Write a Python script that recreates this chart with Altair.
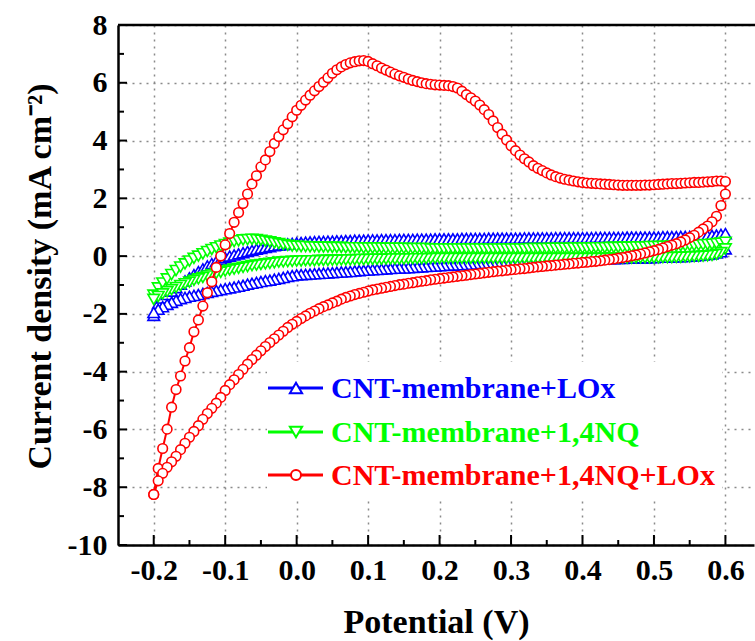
import altair as alt
import pandas as pd

# ---------------- data ----------------
N = 129  # potential sweep points per branch, -0.2 V ... 0.6 V
potential = [round(-0.2 + 0.00625 * k, 5) for k in range(N)]

names = ["CNT-membrane+LOx", "CNT-membrane+1,4NQ", "CNT-membrane+1,4NQ+LOx"]
colors = ["#0000FF", "#00FF00", "#FF0000"]
shapes = ["triangle-up", "triangle-down", "circle"]

# CNT-membrane+LOx (blue)
lox_anodic = [
    -2.05, -1.65, -1.45, -1.33, -1.21, -1.09, -0.97, -0.86, -0.75, -0.64,
    -0.54, -0.44, -0.34, -0.26, -0.18, -0.11, -0.05, 0.00, 0.04, 0.08,
    0.12, 0.16, 0.20, 0.24, 0.27, 0.30, 0.33, 0.36, 0.38, 0.40,
    0.42, 0.44, 0.46, 0.47, 0.48, 0.49, 0.50, 0.51, 0.51, 0.52,
    0.52, 0.53, 0.53, 0.54, 0.54, 0.55, 0.55, 0.55, 0.56, 0.56,
    0.56, 0.57, 0.57, 0.57, 0.57, 0.58, 0.58, 0.58, 0.58, 0.59,
    0.59, 0.59, 0.59, 0.60, 0.60, 0.60, 0.60, 0.60, 0.60, 0.61,
    0.61, 0.61, 0.61, 0.61, 0.61, 0.62, 0.62, 0.62, 0.62, 0.62,
    0.62, 0.62, 0.62, 0.63, 0.63, 0.63, 0.63, 0.63, 0.63, 0.63,
    0.64, 0.64, 0.64, 0.64, 0.64, 0.64, 0.64, 0.64, 0.64, 0.65,
    0.65, 0.65, 0.65, 0.65, 0.65, 0.65, 0.66, 0.66, 0.66, 0.66,
    0.66, 0.66, 0.66, 0.66, 0.67, 0.67, 0.67, 0.67, 0.68, 0.68,
    0.68, 0.69, 0.69, 0.70, 0.71, 0.72, 0.73, 0.75, 0.78,
]
lox_cathodic = [
    -1.95, -1.84, -1.75, -1.67, -1.60, -1.53, -1.47, -1.43, -1.39, -1.36,
    -1.33, -1.29, -1.26, -1.22, -1.19, -1.16, -1.13, -1.10, -1.07, -1.04,
    -1.01, -0.97, -0.94, -0.91, -0.88, -0.85, -0.83, -0.80, -0.77, -0.74,
    -0.70, -0.68, -0.65, -0.64, -0.63, -0.62, -0.61, -0.60, -0.59, -0.58,
    -0.57, -0.56, -0.55, -0.54, -0.53, -0.51, -0.50, -0.49, -0.48, -0.47,
    -0.46, -0.45, -0.44, -0.43, -0.42, -0.41, -0.41, -0.40, -0.39, -0.38,
    -0.37, -0.36, -0.35, -0.34, -0.33, -0.32, -0.31, -0.31, -0.30, -0.29,
    -0.28, -0.27, -0.26, -0.26, -0.25, -0.24, -0.24, -0.23, -0.22, -0.22,
    -0.21, -0.20, -0.20, -0.19, -0.19, -0.18, -0.17, -0.17, -0.16, -0.16,
    -0.15, -0.15, -0.14, -0.14, -0.13, -0.13, -0.12, -0.12, -0.11, -0.11,
    -0.10, -0.10, -0.09, -0.09, -0.08, -0.08, -0.07, -0.07, -0.06, -0.06,
    -0.06, -0.05, -0.05, -0.04, -0.04, -0.03, -0.03, -0.02, -0.02, -0.01,
    0.00, 0.01, 0.02, 0.04, 0.06, 0.08, 0.11, 0.15, 0.25,
]

# CNT-membrane+1,4NQ (green)
nq_anodic = [
    -1.35, -1.10, -0.93, -0.79, -0.64, -0.50, -0.38, -0.27, -0.17, -0.08,
    0.00, 0.08, 0.16, 0.23, 0.29, 0.35, 0.40, 0.45, 0.50, 0.53,
    0.56, 0.57, 0.58, 0.57, 0.55, 0.52, 0.49, 0.46, 0.43, 0.40,
    0.37, 0.35, 0.34, 0.33, 0.33, 0.32, 0.32, 0.31, 0.31, 0.31,
    0.30, 0.30, 0.30, 0.29, 0.29, 0.29, 0.29, 0.28, 0.28, 0.28,
    0.28, 0.28, 0.27, 0.27, 0.27, 0.27, 0.27, 0.26, 0.26, 0.26,
    0.26, 0.26, 0.25, 0.25, 0.25, 0.25, 0.25, 0.25, 0.25, 0.25,
    0.25, 0.25, 0.25, 0.25, 0.25, 0.25, 0.25, 0.25, 0.25, 0.25,
    0.25, 0.25, 0.25, 0.25, 0.26, 0.26, 0.26, 0.26, 0.26, 0.27,
    0.27, 0.27, 0.27, 0.27, 0.28, 0.28, 0.28, 0.28, 0.28, 0.29,
    0.29, 0.29, 0.30, 0.30, 0.30, 0.31, 0.31, 0.31, 0.32, 0.32,
    0.32, 0.33, 0.33, 0.33, 0.34, 0.34, 0.35, 0.35, 0.36, 0.36,
    0.37, 0.37, 0.38, 0.39, 0.40, 0.41, 0.43, 0.45, 0.48,
]
nq_cathodic = [
    -1.50, -1.40, -1.31, -1.23, -1.16, -1.09, -1.02, -0.96, -0.90, -0.84,
    -0.79, -0.74, -0.69, -0.64, -0.60, -0.56, -0.52, -0.48, -0.45, -0.42,
    -0.39, -0.36, -0.33, -0.31, -0.29, -0.27, -0.25, -0.23, -0.21, -0.20,
    -0.19, -0.18, -0.17, -0.17, -0.16, -0.16, -0.16, -0.15, -0.15, -0.15,
    -0.14, -0.14, -0.13, -0.13, -0.13, -0.12, -0.12, -0.12, -0.11, -0.11,
    -0.11, -0.11, -0.10, -0.10, -0.10, -0.10, -0.10, -0.09, -0.09, -0.09,
    -0.09, -0.09, -0.08, -0.08, -0.08, -0.08, -0.08, -0.08, -0.08, -0.08,
    -0.08, -0.08, -0.08, -0.08, -0.08, -0.08, -0.08, -0.08, -0.08, -0.08,
    -0.08, -0.08, -0.08, -0.08, -0.08, -0.08, -0.08, -0.08, -0.08, -0.08,
    -0.08, -0.08, -0.08, -0.08, -0.08, -0.08, -0.08, -0.08, -0.08, -0.08,
    -0.08, -0.07, -0.07, -0.07, -0.07, -0.07, -0.07, -0.07, -0.06, -0.06,
    -0.06, -0.06, -0.06, -0.06, -0.05, -0.05, -0.05, -0.04, -0.04, -0.03,
    -0.03, -0.02, -0.01, 0.00, 0.01, 0.03, 0.06, 0.12, 0.25,
]

# CNT-membrane+1,4NQ+LOx (red)
nqlox_anodic = [
    -8.25, -7.35, -6.66, -5.99, -5.23, -4.62, -4.15, -3.63, -3.17, -2.62,
    -2.21, -1.73, -1.27, -0.89, -0.39, 0.00, 0.39, 0.78, 1.17, 1.51,
    1.82, 2.15, 2.50, 2.78, 3.09, 3.33, 3.62, 3.90, 4.14, 4.37,
    4.58, 4.82, 5.05, 5.22, 5.40, 5.57, 5.72, 5.87, 6.02, 6.17,
    6.33, 6.45, 6.55, 6.63, 6.69, 6.73, 6.76, 6.77, 6.74, 6.66,
    6.59, 6.51, 6.44, 6.37, 6.30, 6.24, 6.19, 6.13, 6.08, 6.04,
    6.00, 5.97, 5.95, 5.93, 5.92, 5.91, 5.90, 5.87, 5.82, 5.71,
    5.59, 5.48, 5.37, 5.23, 5.07, 4.90, 4.68, 4.45, 4.22, 4.02,
    3.82, 3.65, 3.50, 3.37, 3.26, 3.13, 3.04, 2.96, 2.88, 2.81,
    2.75, 2.70, 2.66, 2.63, 2.60, 2.57, 2.55, 2.53, 2.52, 2.51,
    2.50, 2.49, 2.48, 2.47, 2.46, 2.45, 2.45, 2.45, 2.45, 2.45,
    2.46, 2.46, 2.47, 2.48, 2.49, 2.50, 2.51, 2.51, 2.52, 2.53,
    2.54, 2.55, 2.55, 2.56, 2.57, 2.58, 2.60, 2.60, 2.58,
]
nqlox_cathodic = [
    -8.25, -7.78, -7.52, -7.31, -7.12, -6.93, -6.70, -6.48, -6.27, -6.07,
    -5.87, -5.65, -5.45, -5.27, -5.09, -4.89, -4.65, -4.45, -4.28, -4.10,
    -3.92, -3.74, -3.58, -3.43, -3.28, -3.13, -2.99, -2.86, -2.73, -2.60,
    -2.47, -2.36, -2.26, -2.16, -2.07, -1.98, -1.90, -1.82, -1.75, -1.69,
    -1.62, -1.56, -1.49, -1.43, -1.38, -1.33, -1.29, -1.25, -1.21, -1.17,
    -1.14, -1.11, -1.08, -1.05, -1.02, -0.99, -0.97, -0.94, -0.92, -0.89,
    -0.87, -0.85, -0.82, -0.80, -0.78, -0.76, -0.74, -0.72, -0.70, -0.68,
    -0.66, -0.64, -0.62, -0.60, -0.58, -0.56, -0.54, -0.52, -0.51, -0.49,
    -0.47, -0.46, -0.44, -0.43, -0.41, -0.39, -0.37, -0.36, -0.34, -0.33,
    -0.31, -0.30, -0.28, -0.27, -0.25, -0.24, -0.22, -0.21, -0.19, -0.18,
    -0.16, -0.14, -0.12, -0.10, -0.07, -0.05, -0.02, 0.01, 0.04, 0.07,
    0.11, 0.15, 0.19, 0.23, 0.28, 0.33, 0.38, 0.43, 0.49, 0.56,
    0.64, 0.72, 0.83, 0.94, 1.04, 1.19, 1.38, 1.75, 2.15,
]

x_ticks_major = [-0.2, -0.1, 0.0, 0.1, 0.2, 0.3, 0.4, 0.5, 0.6]
x_ticks_minor = [-0.15, -0.05, 0.05, 0.15, 0.25, 0.35, 0.45, 0.55]
y_ticks_major = [-10, -8, -6, -4, -2, 0, 2, 4, 6, 8]
y_ticks_minor = [-9, -7, -5, -3, -1, 1, 3, 5, 7]

series = [
    (lox_anodic, lox_cathodic),
    (nq_anodic, nq_cathodic),
    (nqlox_anodic, nqlox_cathodic),
]
for a, c in series:
    assert len(a) == N and len(c) == N, (len(a), len(c))

# ---------------- layout ----------------
W, H = 636, 520
LEFT, TOP = 118, 25
FONT = "Liberation Serif"

xs = alt.Scale(domain=[-0.25, 0.64], nice=False, zero=False)
ys = alt.Scale(domain=[-10, 8], nice=False, zero=False)

xaxis = alt.Axis(
    values=x_ticks_major, format=".1f",
    labelExpr="replace(datum.label, '\u2212', '-')",
    title="Potential (V)", titleX=W / 2, titleY=87,
    titleBaseline="alphabetic", titleAlign="center",
    labelPadding=10, labelFlush=False, labelOverlap=False,
)
yaxis = alt.Axis(
    values=y_ticks_major, format="d",
    labelExpr="replace(datum.label, '\u2212', '-')",
    title="Current density (mA cm\u207b\u00b2)", titleX=-68, titleY=251,
    titleAngle=-90, titleBaseline="alphabetic", titleAlign="center",
    labelPadding=11, labelOverlap=False,
)

X = alt.X("V:Q", scale=xs, axis=xaxis)
Y = alt.Y("I:Q", scale=ys, axis=yaxis)

one = pd.DataFrame({"a": [0]})

layers = []
# white legend box (hides the grid there)
layers.append(
    alt.Chart(one).mark_rect(fill="white").encode(
        x=alt.value(149), x2=alt.value(604), y=alt.value(337), y2=alt.value(472)
    )
)

sizes = [135, 135, 92]
for (an, ca), name, col, shp, sz in zip(series, names, colors, shapes, sizes):
    rows = []
    for k in range(N):
        rows.append({"V": potential[k], "I": an[k], "o": k})
    for j, k in enumerate(reversed(range(N))):
        rows.append({"V": potential[k], "I": ca[k], "o": N + j})
    d = pd.DataFrame(rows)
    line = alt.Chart(d).mark_line(color=col, strokeWidth=2).encode(
        x=X, y=Y, order="o:Q"
    )
    pts = alt.Chart(d).mark_point(
        shape=shp, size=sz, fill="white", fillOpacity=1, stroke=col,
        strokeWidth=1.6, opacity=1,
    ).encode(x=X, y=Y)
    layers += [line, pts]

# inward ticks
tx_major = pd.DataFrame({"V": x_ticks_major})
tx_minor = pd.DataFrame({"V": x_ticks_minor})
ty_major = pd.DataFrame({"I": y_ticks_major})
ty_minor = pd.DataFrame({"I": y_ticks_minor})
layers.append(alt.Chart(tx_major).mark_rule(color="black", strokeWidth=2).encode(
    x=X, y=alt.value(H), y2=alt.value(H - 10)))
layers.append(alt.Chart(tx_minor).mark_rule(color="black", strokeWidth=2).encode(
    x=X, y=alt.value(H), y2=alt.value(H - 5)))
layers.append(alt.Chart(ty_major).mark_rule(color="black", strokeWidth=2).encode(
    y=Y, x=alt.value(0), x2=alt.value(9)))
layers.append(alt.Chart(ty_minor).mark_rule(color="black", strokeWidth=2).encode(
    y=Y, x=alt.value(0), x2=alt.value(6)))

# top frame line
layers.append(alt.Chart(one).mark_rule(color="black", strokeWidth=2.5).encode(
    x=alt.value(0), x2=alt.value(W + 2), y=alt.value(0)))

# legend
leg_y = [363, 407, 450]
for name, col, shp, ly in zip(names, colors, shapes, leg_y):
    layers.append(alt.Chart(one).mark_rule(color=col, strokeWidth=3).encode(
        x=alt.value(150), x2=alt.value(205), y=alt.value(ly)))
    layers.append(alt.Chart(one).mark_point(
        shape=shp, size=150 if shp != "circle" else 100, fill="white",
        fillOpacity=1, stroke=col, strokeWidth=2, opacity=1,
    ).encode(x=alt.value(178), y=alt.value(ly)))
    layers.append(alt.Chart(one).mark_text(
        text=name, color=col, font=FONT, fontWeight="bold", fontSize=30,
        align="left", baseline="middle",
    ).encode(x=alt.value(213), y=alt.value(ly + 1)))

chart = alt.layer(*layers).properties(
    width=W, height=H,
    autosize=alt.AutoSizeParams(type="none"),
    padding={"left": LEFT, "top": TOP, "right": 1, "bottom": 641 - TOP - H},
).configure_view(stroke=None).configure_axis(
    labelFont=FONT, labelFontWeight="bold", labelFontSize=30, labelColor="black",
    titleFont=FONT, titleFontWeight="bold", titleFontSize=34, titleColor="black",
    domainColor="black", domainWidth=2.5, ticks=False,
    grid=True, gridColor="#8a8a8a", gridDash=[2, 5], gridWidth=1.5,
)

chart.save("out.html", embed_options={"renderer": "svg", "actions": False})
